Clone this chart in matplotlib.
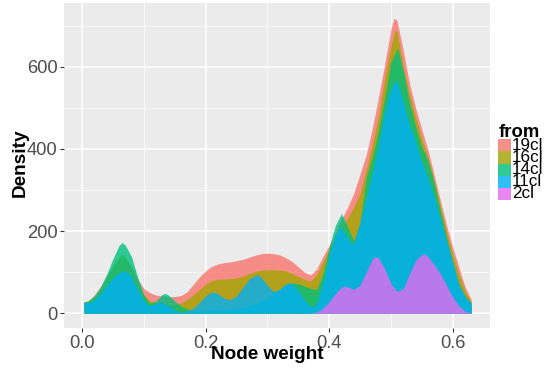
import matplotlib
matplotlib.use("Agg")
import matplotlib.pyplot as plt
from matplotlib.patches import Rectangle

plt.rcParams['font.family'] = ['Liberation Sans', 'DejaVu Sans']

# ---- data ----
groups = ["19cl", "16cl", "14cl", "11cl", "2cl"]
colors = ["#F8766D", "#A3A500", "#00BF7D", "#00B0F6", "#E76BF3"]

x_19cl = [0.003, 0.01, 0.02, 0.03, 0.04, 0.05, 0.06, 0.07, 0.08, 0.09, 0.10, 0.11, 0.12, 0.13, 0.14,
          0.15, 0.16, 0.17, 0.18, 0.19, 0.20, 0.21, 0.22, 0.23, 0.24, 0.25, 0.26, 0.27, 0.28, 0.29,
          0.30, 0.31, 0.32, 0.33, 0.34, 0.35, 0.36, 0.37, 0.38, 0.39, 0.40, 0.41, 0.42, 0.43, 0.44,
          0.45, 0.46, 0.47, 0.48, 0.49, 0.50, 0.505, 0.51, 0.52, 0.53, 0.54, 0.55, 0.56, 0.57, 0.58,
          0.59, 0.60, 0.61, 0.62, 0.63]
y_19cl = [27, 30, 45, 65, 90, 113, 128, 132, 115, 84, 60, 50, 44, 42, 40,
          41, 43, 52, 70, 88, 103, 114, 120, 123, 125, 128, 131, 136, 141, 145,
          146, 145, 142, 135, 126, 113, 100, 93, 108, 138, 165, 195, 228, 258, 292,
          338, 385, 450, 525, 605, 690, 718, 712, 640, 560, 500, 447, 398, 337, 275,
          215, 162, 112, 65, 33]

x_16cl = [0.003, 0.01, 0.02, 0.03, 0.04, 0.05, 0.06, 0.065, 0.07, 0.08, 0.09, 0.10, 0.11, 0.12, 0.13,
          0.14, 0.15, 0.16, 0.17, 0.18, 0.19, 0.20, 0.21, 0.22, 0.23, 0.24, 0.25, 0.26, 0.27, 0.28,
          0.29, 0.30, 0.31, 0.32, 0.33, 0.34, 0.35, 0.36, 0.37, 0.38, 0.39, 0.40, 0.41, 0.42, 0.43,
          0.44, 0.45, 0.46, 0.47, 0.48, 0.49, 0.50, 0.507, 0.51, 0.52, 0.53, 0.54, 0.55, 0.56, 0.57,
          0.58, 0.59, 0.60, 0.61, 0.62, 0.63]
y_16cl = [27, 30, 40, 58, 85, 115, 138, 143, 138, 110, 72, 45, 30, 25, 22,
          20, 20, 25, 33, 45, 58, 70, 80, 83, 83, 84, 86, 90, 96, 101,
          105, 106, 106, 105, 103, 97, 90, 83, 78, 95, 125, 155, 185, 210, 232,
          258, 292, 348, 410, 480, 570, 650, 689, 686, 600, 535, 478, 425, 380, 325,
          262, 200, 145, 95, 55, 28]

x_14cl = [0.003, 0.01, 0.02, 0.03, 0.04, 0.05, 0.06, 0.065, 0.07, 0.08, 0.09, 0.10, 0.11, 0.12, 0.13,
          0.135, 0.14, 0.15, 0.16, 0.17, 0.18, 0.20, 0.22, 0.24, 0.26, 0.28, 0.30, 0.32, 0.33, 0.34,
          0.35, 0.36, 0.37, 0.38, 0.39, 0.40, 0.41, 0.42, 0.43, 0.44, 0.45, 0.46, 0.47, 0.48, 0.49,
          0.50, 0.511, 0.52, 0.53, 0.54, 0.55, 0.56, 0.57, 0.58, 0.59, 0.60, 0.61, 0.62, 0.63]
y_14cl = [27, 30, 42, 64, 95, 132, 165, 172, 166, 138, 88, 45, 24, 30, 46,
          48, 44, 30, 18, 10, 6, 6, 8, 10, 14, 22, 36, 58, 70, 74,
          72, 66, 60, 58, 95, 160, 213, 243, 210, 176, 220, 330, 380, 445, 525,
          610, 646, 590, 515, 455, 405, 372, 318, 250, 185, 125, 72, 42, 24]

x_11cl = [0.003, 0.01, 0.015, 0.02, 0.03, 0.04, 0.05, 0.06, 0.068, 0.075,
          0.08, 0.09, 0.10, 0.105, 0.11, 0.12, 0.127, 0.14, 0.15, 0.155,
          0.16, 0.17, 0.18, 0.19, 0.20, 0.21, 0.22, 0.23, 0.24, 0.25,
          0.26, 0.27, 0.28, 0.285, 0.29, 0.30, 0.31, 0.32, 0.33, 0.335,
          0.34, 0.35, 0.36, 0.37, 0.375, 0.38, 0.39, 0.40, 0.41, 0.418,
          0.43, 0.437, 0.44, 0.45, 0.46, 0.47, 0.48, 0.49, 0.50, 0.509,
          0.52, 0.53, 0.54, 0.55, 0.56, 0.57, 0.58, 0.59, 0.60, 0.61,
          0.62, 0.63]
y_11cl = [26, 26, 27, 33, 48, 68, 86, 99, 103, 98,
          88, 58, 32, 22, 18, 24, 27, 18, 8, 4,
          3, 5, 12, 26, 42, 52, 48, 36, 33, 42,
          62, 82, 92, 93, 88, 68, 53, 58, 72, 74,
          72, 55, 32, 17, 16, 25, 75, 140, 190, 210,
          185, 168, 170, 220, 280, 340, 410, 490, 548, 568,
          515, 460, 418, 368, 330, 285, 228, 178, 125, 70,
          40, 24]

x_2cl = [0.003, 0.37, 0.38, 0.39, 0.40, 0.41, 0.42, 0.425, 0.43, 0.44, 0.45, 0.46, 0.47, 0.475, 0.48,
         0.49, 0.50, 0.51, 0.52, 0.53, 0.54, 0.55, 0.555, 0.56, 0.57, 0.58, 0.59, 0.60, 0.61, 0.62, 0.63]
y_2cl = [0, 0, 3, 12, 28, 48, 63, 66, 64, 58, 68, 100, 132, 138, 135,
         108, 72, 53, 60, 95, 128, 143, 144, 138, 118, 97, 68, 40, 18, 5, 0]

series_x = [x_19cl, x_16cl, x_14cl, x_11cl, x_2cl]
series_y = [y_19cl, y_16cl, y_14cl, y_11cl, y_2cl]

x_ticks = [0.0, 0.2, 0.4, 0.6]
x_tick_labels = ["0.0", "0.2", "0.4", "0.6"]
y_ticks = [0, 200, 400, 600]
y_tick_labels = ["0", "200", "400", "600"]

# ---- figure ----
W, H = 544, 370
fig = plt.figure(figsize=(W / 100, H / 100), dpi=100)
ax_l, ax_r, ax_t, ax_b = 64, 490, 3.3, 328
ax = fig.add_axes([ax_l / W, 1 - ax_b / H, (ax_r - ax_l) / W, (ax_b - ax_t) / H])
ax.set_facecolor("#EBEBEB")
for s in ax.spines.values():
    s.set_visible(False)

for i, (xs, ys, c) in enumerate(zip(series_x, series_y, colors)):
    ax.fill_between(xs, 0, ys, color=c, alpha=0.8, linewidth=0, zorder=3 + i)

ax.set_xlim(-0.0291, 0.6605)
ax.set_ylim(-35.8, 754)

ax.set_xticks(x_ticks)
ax.set_xticklabels(x_tick_labels)
ax.set_yticks(y_ticks)
ax.set_yticklabels(y_tick_labels)
ax.set_xticks([0.1, 0.3, 0.5], minor=True)
ax.set_yticks([100, 300, 500, 700], minor=True)
ax.grid(which="major", color="white", linewidth=1.1, zorder=0)
ax.grid(which="minor", color="white", linewidth=0.5, zorder=0)
ax.set_axisbelow(True)
ax.tick_params(which="major", length=2.8, width=0.8, color="#333333",
               labelsize=13.2, labelcolor="#4D4D4D", pad=2)
ax.tick_params(which="minor", length=0)

ax.set_xlabel("Node weight", fontsize=13.7, fontweight="bold")
ax.xaxis.set_label_coords((267 - ax_l) / (ax_r - ax_l), -(346 - ax_b) / (ax_b - ax_t))
ax.xaxis.label.set_va("top")
ax.set_ylabel("Density", fontsize=13.7, fontweight="bold")
ax.yaxis.set_label_coords(-(ax_l - 28.5) / (ax_r - ax_l), (ax_b - 163) / (ax_b - ax_t))

# ---- legend ----
fig.text(499 / W, 1 - 137 / H, "from", fontsize=13.3, fontweight="bold", ha="left", va="baseline")
key_top = 139.3
key_h = 12.15
for i, (g, c) in enumerate(zip(groups, colors)):
    y0 = key_top + i * key_h
    fig.add_artist(Rectangle((498 / W, 1 - (y0 + key_h) / H), 13 / W, key_h / H,
                             transform=fig.transFigure, facecolor="#F2F2F2", edgecolor="none"))
    fig.add_artist(Rectangle((498 / W, 1 - (y0 + key_h) / H), 13 / W, key_h / H,
                             transform=fig.transFigure, facecolor=c, alpha=0.8, edgecolor="none"))
    fig.text(512 / W, 1 - (y0 + key_h / 2) / H, g, fontsize=12.3, ha="left", va="center")

fig.savefig("out.png", dpi=100)
